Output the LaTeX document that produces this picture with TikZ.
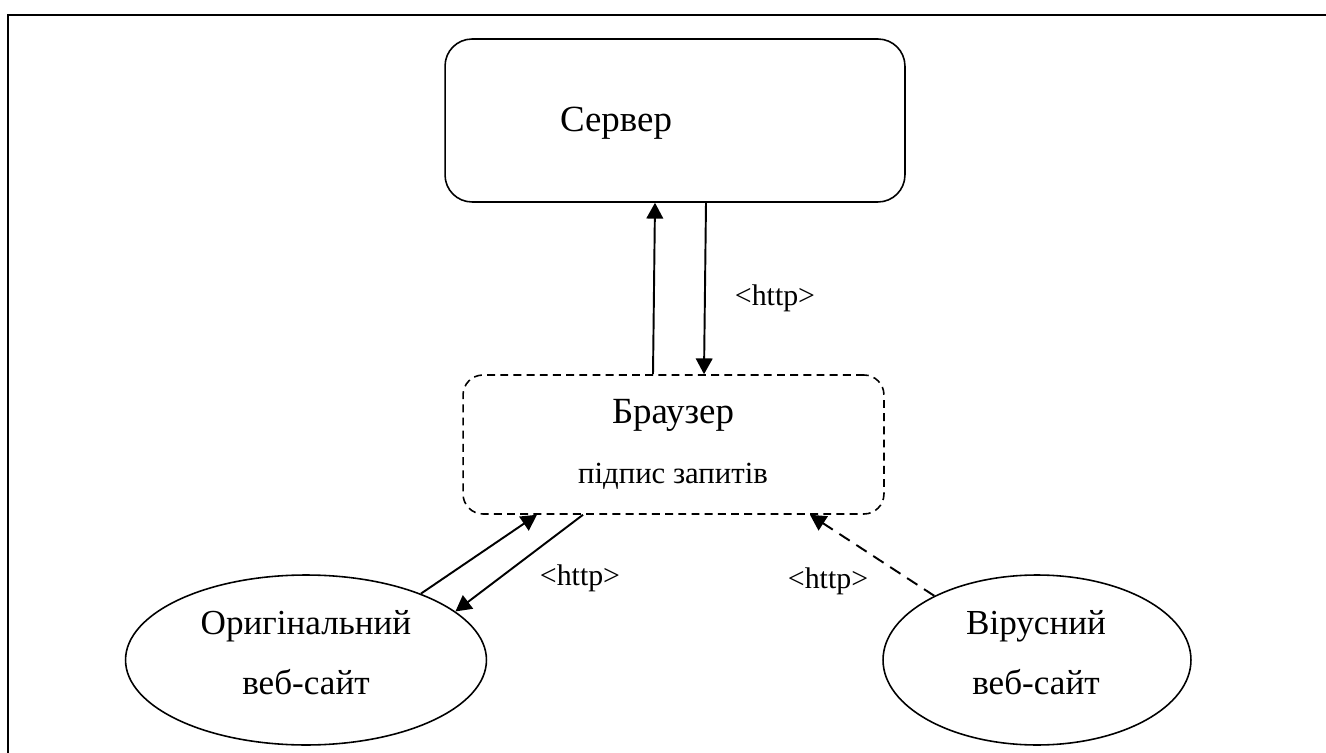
\documentclass[tikz,border=0pt]{standalone}
\usepackage{fontspec}
\setmainfont{Liberation Serif}
\usetikzlibrary{shapes.geometric,arrows.meta}
\tikzset{
  frameline/.style={line width=1.4pt},
  boxline/.style={line width=0.9pt},
  arr/.style={line width=1.1pt,-{Triangle[length=9pt,width=9.5pt]}},
  darr/.style={arr,dash pattern=on 7pt off 4.5pt},
  bigtxt/.style={font=\fontsize{21}{25}\selectfont,inner sep=0pt,anchor=base},
  sitetxt/.style={font=\fontsize{20}{24}\selectfont,inner sep=0pt,anchor=base},
  midtxt/.style={font=\fontsize{17.5}{21}\selectfont,inner sep=0pt,anchor=base},
  httptxt/.style={font=\fontsize{17}{20}\selectfont,inner sep=0pt},
  site/.style={draw,ellipse,boxline,inner sep=0pt},
}
\begin{document}
\begin{tikzpicture}[x=0.02cm,y=-0.02cm]
\useasboundingbox (0,0) rectangle (1326,753);
% frame
\draw[frameline] (8,753) -- (8,15) -- (1326,15);
% server
\node[draw,boxline,rounded corners=0.54cm,minimum width=9.2cm,minimum height=3.26cm,inner sep=0pt] (server) at (675,120.5) {};
\node[bigtxt] (servertxt) at (616,132) {Сервер};
% browser
\node[draw,boxline,dash pattern=on 4.5pt off 3pt,rounded corners=0.4cm,minimum width=8.42cm,minimum height=2.78cm,inner sep=0pt] (browser) at (673.5,444.5) {};
\node[bigtxt] (browsertxt) at (673,423) {Браузер};
\node[midtxt] (signtxt) at (673,483) {підпис запитів};
% sites
\node[site,minimum width=7.22cm,minimum height=3.4cm] (orig) at (306,660) {};
\node[sitetxt] (origtxt1) at (306,634) {Оригінальний};
\node[sitetxt] (origtxt2) at (306,694) {веб-сайт};
\node[site,minimum width=6.16cm,minimum height=3.4cm] (virus) at (1037,660) {};
\node[sitetxt] (virtxt1) at (1036,634) {Вірусний};
\node[sitetxt] (virtxt2) at (1036,694) {веб-сайт};
% arrows
\draw[arr] (browser.north -| 653,0) -- (server.south -| 655,0);
\draw[arr] (server.south -| 706,0) -- (browser.north -| 704,0);
\draw[arr] (orig.30) -- (browser.south -| 537,0);
\draw[arr] (browser.south -| 583,0) -- (orig.18);
\draw[darr] (virus.148) -- (browser.south -| 810,0);
% labels
\node[httptxt] (h1) at (775,298) {<http>};
\node[httptxt] (h2) at (580,578) {<http>};
\node[httptxt] (h3) at (828,581) {<http>};
\end{tikzpicture}
\end{document}
